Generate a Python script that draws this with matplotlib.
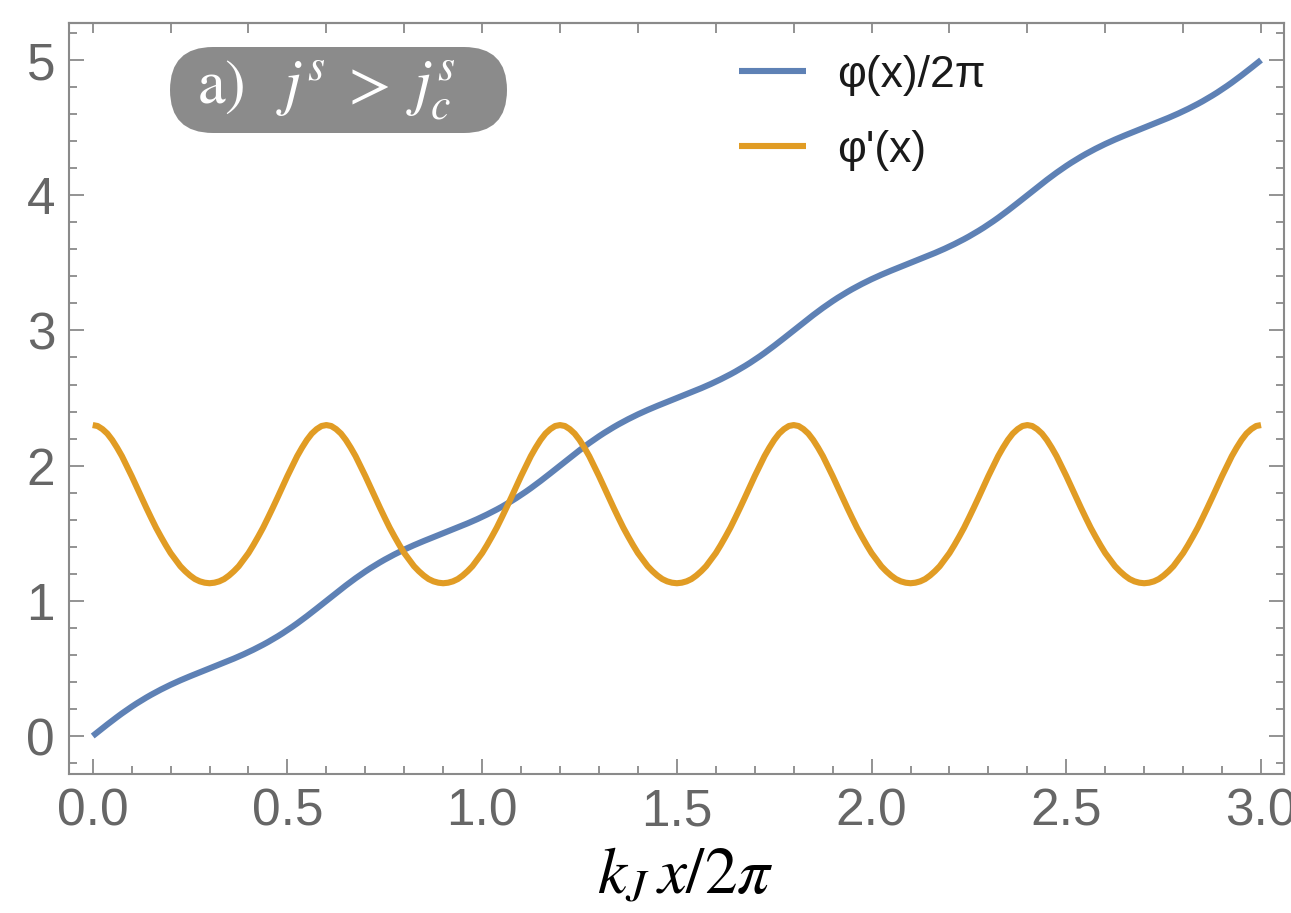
import numpy as np
import matplotlib
matplotlib.use("Agg")
import matplotlib.pyplot as plt
from matplotlib.ticker import MultipleLocator, FormatStrFormatter
from matplotlib.patches import FancyBboxPatch

plt.rcParams["mathtext.fontset"] = "stix"

# sample positions k_J x / 2pi (step 0.0125 from 0 to 3)
x_vals = np.round(np.arange(241) * 0.0125, 4)

# phase phi(x)/2pi
phase = [
    0.0000, 0.0287, 0.0573, 0.0855, 0.1133, 0.1403, 0.1668, 0.1922, 0.2167, 0.2403, 0.2627, 0.2843,
    0.3050, 0.3247, 0.3436, 0.3616, 0.3791, 0.3957, 0.4117, 0.4272, 0.4421, 0.4568, 0.4714, 0.4856,
    0.5000, 0.5144, 0.5286, 0.5432, 0.5579, 0.5728, 0.5883, 0.6043, 0.6209, 0.6384, 0.6564, 0.6753,
    0.6950, 0.7157, 0.7373, 0.7597, 0.7833, 0.8078, 0.8332, 0.8597, 0.8867, 0.9145, 0.9427, 0.9713,
    1.0000, 1.0287, 1.0573, 1.0855, 1.1133, 1.1403, 1.1668, 1.1922, 1.2167, 1.2403, 1.2627, 1.2843,
    1.3050, 1.3247, 1.3436, 1.3616, 1.3791, 1.3957, 1.4117, 1.4272, 1.4421, 1.4568, 1.4714, 1.4856,
    1.5000, 1.5144, 1.5286, 1.5432, 1.5579, 1.5728, 1.5883, 1.6043, 1.6209, 1.6384, 1.6564, 1.6753,
    1.6950, 1.7157, 1.7373, 1.7597, 1.7833, 1.8078, 1.8332, 1.8597, 1.8867, 1.9145, 1.9427, 1.9713,
    2.0000, 2.0287, 2.0573, 2.0855, 2.1133, 2.1403, 2.1668, 2.1922, 2.2167, 2.2403, 2.2627, 2.2843,
    2.3050, 2.3247, 2.3436, 2.3616, 2.3791, 2.3957, 2.4117, 2.4272, 2.4421, 2.4568, 2.4714, 2.4856,
    2.5000, 2.5144, 2.5286, 2.5432, 2.5579, 2.5728, 2.5883, 2.6043, 2.6209, 2.6384, 2.6564, 2.6753,
    2.6950, 2.7157, 2.7373, 2.7597, 2.7833, 2.8078, 2.8332, 2.8597, 2.8867, 2.9145, 2.9427, 2.9713,
    3.0000, 3.0287, 3.0573, 3.0855, 3.1133, 3.1403, 3.1668, 3.1922, 3.2167, 3.2403, 3.2627, 3.2843,
    3.3050, 3.3247, 3.3436, 3.3616, 3.3791, 3.3957, 3.4117, 3.4272, 3.4421, 3.4568, 3.4714, 3.4856,
    3.5000, 3.5144, 3.5286, 3.5432, 3.5579, 3.5728, 3.5883, 3.6043, 3.6209, 3.6384, 3.6564, 3.6753,
    3.6950, 3.7157, 3.7373, 3.7597, 3.7833, 3.8078, 3.8332, 3.8597, 3.8867, 3.9145, 3.9427, 3.9713,
    4.0000, 4.0287, 4.0573, 4.0855, 4.1133, 4.1403, 4.1668, 4.1922, 4.2167, 4.2403, 4.2627, 4.2843,
    4.3050, 4.3247, 4.3436, 4.3616, 4.3791, 4.3957, 4.4117, 4.4272, 4.4421, 4.4568, 4.4714, 4.4856,
    4.5000, 4.5144, 4.5286, 4.5432, 4.5579, 4.5728, 4.5883, 4.6043, 4.6209, 4.6384, 4.6564, 4.6753,
    4.6950, 4.7157, 4.7373, 4.7597, 4.7833, 4.8078, 4.8332, 4.8597, 4.8867, 4.9145, 4.9427, 4.9713,
    5.0000,
]

# phase gradient phi'(x)
gradient = [
    2.300, 2.293, 2.270, 2.237, 2.190, 2.133, 2.070, 1.997, 1.923, 1.845, 1.766, 1.689,
    1.614, 1.541, 1.475, 1.412, 1.353, 1.304, 1.256, 1.219, 1.187, 1.161, 1.144, 1.134,
    1.130, 1.134, 1.144, 1.161, 1.187, 1.219, 1.256, 1.304, 1.353, 1.412, 1.475, 1.541,
    1.614, 1.689, 1.766, 1.845, 1.923, 1.997, 2.070, 2.133, 2.190, 2.237, 2.270, 2.293,
    2.300, 2.293, 2.270, 2.237, 2.190, 2.133, 2.070, 1.997, 1.923, 1.845, 1.766, 1.689,
    1.614, 1.541, 1.475, 1.412, 1.353, 1.304, 1.256, 1.219, 1.187, 1.161, 1.144, 1.134,
    1.130, 1.134, 1.144, 1.161, 1.187, 1.219, 1.256, 1.304, 1.353, 1.412, 1.475, 1.541,
    1.614, 1.689, 1.766, 1.845, 1.923, 1.997, 2.070, 2.133, 2.190, 2.237, 2.270, 2.293,
    2.300, 2.293, 2.270, 2.237, 2.190, 2.133, 2.070, 1.997, 1.923, 1.845, 1.766, 1.689,
    1.614, 1.541, 1.475, 1.412, 1.353, 1.304, 1.256, 1.219, 1.187, 1.161, 1.144, 1.134,
    1.130, 1.134, 1.144, 1.161, 1.187, 1.219, 1.256, 1.304, 1.353, 1.412, 1.475, 1.541,
    1.614, 1.689, 1.766, 1.845, 1.923, 1.997, 2.070, 2.133, 2.190, 2.237, 2.270, 2.293,
    2.300, 2.293, 2.270, 2.237, 2.190, 2.133, 2.070, 1.997, 1.923, 1.845, 1.766, 1.689,
    1.614, 1.541, 1.475, 1.412, 1.353, 1.304, 1.256, 1.219, 1.187, 1.161, 1.144, 1.134,
    1.130, 1.134, 1.144, 1.161, 1.187, 1.219, 1.256, 1.304, 1.353, 1.412, 1.475, 1.541,
    1.614, 1.689, 1.766, 1.845, 1.923, 1.997, 2.070, 2.133, 2.190, 2.237, 2.270, 2.293,
    2.300, 2.293, 2.270, 2.237, 2.190, 2.133, 2.070, 1.997, 1.923, 1.845, 1.766, 1.689,
    1.614, 1.541, 1.475, 1.412, 1.353, 1.304, 1.256, 1.219, 1.187, 1.161, 1.144, 1.134,
    1.130, 1.134, 1.144, 1.161, 1.187, 1.219, 1.256, 1.304, 1.353, 1.412, 1.475, 1.541,
    1.614, 1.689, 1.766, 1.845, 1.923, 1.997, 2.070, 2.133, 2.190, 2.237, 2.270, 2.293,
    2.300,
]

series_labels = ["\u03c6(x)/2\u03c0", "\u03c6'(x)"]
series_colors = ["#5E81B5", "#E19C24"]

W, H = 1291, 913
fig = plt.figure(figsize=(W / 100, H / 100), dpi=100)
ax = fig.add_axes([69 / W, 1 - 774 / H, (1284 - 69) / W, (774 - 23) / H])

for yv, lab, col in zip([phase, gradient], series_labels, series_colors):
    ax.plot(x_vals, yv, color=col, lw=4.4, solid_joinstyle="round",
            solid_capstyle="butt", label=lab)

ax.set_xlim(-0.0609, 3.059)
ax.set_ylim(-0.281, 5.274)

frame_col = "#8a8a8a"
label_col = "#666666"
for sp in ax.spines.values():
    sp.set_color(frame_col)
    sp.set_linewidth(1.5)

ax.xaxis.set_major_locator(MultipleLocator(0.5))
ax.xaxis.set_minor_locator(MultipleLocator(0.1))
ax.xaxis.set_major_formatter(FormatStrFormatter("%.1f"))
ax.yaxis.set_major_locator(MultipleLocator(1))
ax.yaxis.set_minor_locator(MultipleLocator(0.2))
ax.yaxis.set_major_formatter(FormatStrFormatter("%d"))

ax.tick_params(which="both", direction="in", color=frame_col, width=1.3,
               top=False, right=True, labelcolor=label_col)
ax.tick_params(which="major", length=10.5)
ax.tick_params(which="minor", length=6)
ax.tick_params(axis="x", which="major", pad=9.5)
ax.tick_params(axis="y", which="major", pad=10)
for lbl in ax.get_xticklabels() + ax.get_yticklabels():
    lbl.set_fontfamily("Liberation Sans")
    lbl.set_fontsize(37)

top = ax.secondary_xaxis("top")
top.xaxis.set_major_locator(MultipleLocator(0.2))
top.tick_params(direction="in", length=7, width=1.3, color=frame_col,
                labeltop=False)
top.spines["top"].set_color(frame_col)
top.spines["top"].set_linewidth(1.5)

ax.set_xlabel(r"$k_J\,x/2\pi$", fontsize=47, color="black")
ax.xaxis.label.set_va("baseline")
ax.xaxis.set_label_coords((685 - 69) / 1215, (774 - 894) / 751)

leg = ax.legend(loc="upper left", bbox_to_anchor=(739 / W, 1 - 55 / H),
                bbox_transform=fig.transFigure, frameon=False,
                prop={"family": "Liberation Sans", "size": 32},
                handlelength=1.51, handletextpad=0.7, labelspacing=0.76,
                borderpad=0, borderaxespad=0)
for t in leg.get_texts():
    t.set_color("#1a1a1a")

# panel tag in a pill-shaped box
pill = FancyBboxPatch((1.70, (H - 133) / 100), 3.37, 0.86,
                      boxstyle="round,pad=0,rounding_size=0.43",
                      transform=fig.dpi_scale_trans, facecolor="#8b8b8b",
                      edgecolor="none", zorder=5)
fig.patches.append(pill)
fig.text(326 / W, 1 - 91 / H, r"$\mathrm{a)}\;\;\;j^s\;>\;j^s_c$", color="white",
         fontsize=45, ha="center", va="center", zorder=6)

fig.savefig("out.png", dpi=100)
